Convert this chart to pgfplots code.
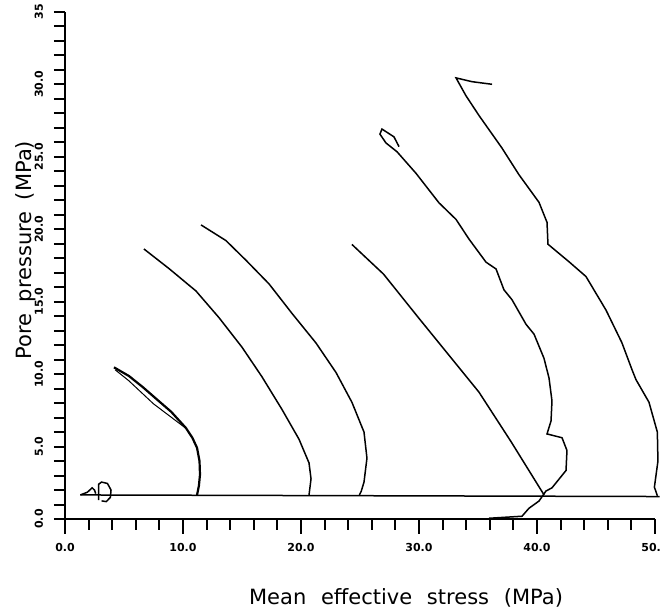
\documentclass[border=0pt]{standalone}
\usepackage{fontspec}
\setmainfont{DejaVu Sans}
\setsansfont{DejaVu Sans}
\usepackage{pgfplots}
\pgfplotsset{compat=1.18}
\pgfplotsset{curve/.style={black, solid, line width=0.75pt, mark=none}}

\begin{document}
\begin{tikzpicture}
\begin{axis}[
  at={(0,0)}, anchor=south west,
  scale only axis,
  width=295pt, height=253.5pt,
  xmin=0, xmax=50, ymin=0, ymax=35,
  clip=false,
  axis x line*=bottom, axis y line*=left,
  axis line style={line width=1.1pt, -},
  xtick={0,10,...,50},
  xticklabels={0.0,10.0,20.0,30.0,40.0,50.0},
  minor xtick={2,4,...,48},
  ytick={0,5,...,35},
  yticklabels={0.0,5.0,10.0,15.0,20.0,25.0,30.0,35},
  minor ytick={0,1,...,35},
  tick align=outside,
  major tick length=7.5pt,
  minor tick length=5.5pt,
  every tick/.style={black, line width=1pt},
  every major y tick/.append style={draw=none},
  xticklabel style={font=\fontsize{5.5}{6}\selectfont\bfseries, yshift=-1pt},
  yticklabel style={font=\fontsize{5.5}{6}\selectfont\bfseries, rotate=90, anchor=south},
  xlabel={Mean\hspace{0.7em}effective\hspace{0.7em}stress\hspace{0.7em}(MPa)},
  ylabel={Pore\hspace{0.55em}pressure\hspace{0.55em}(MPa)},
  label style={font=\fontsize{10.5}{12}\selectfont},
  xlabel style={at={(axis description cs:0.578,-0.156)}, anchor=center},
  ylabel style={at={(axis description cs:-0.066,0.53)}, anchor=center},
]

% baseline at the start of each test
\addplot[curve] coordinates {(1.3,1.66) (50.4,1.55)};

% small loop near the origin
\addplot[curve] coordinates {(1.3,1.66) (1.9,1.85) (2.3,2.15) (2.5,2.0) (2.6,1.75)};
\addplot[curve] coordinates {(2.85,1.3) (2.85,2.4) (3.1,2.55) (3.6,2.45) (3.9,2.0) (3.85,1.5) (3.5,1.2) (3.1,1.25)};

% test 1 (loading and unloading)
\addplot[curve, line width=1.1pt] coordinates {
  (4.15,10.47) (5.42,9.87) (6.6,9.1) (7.71,8.31) (9.0,7.4) (10.25,6.28)
  (10.8,5.6) (11.19,4.91) (11.4,4.0) (11.44,3.06) (11.35,2.3) (11.19,1.66)};
\addplot[curve, line width=0.5pt] coordinates {(4.25,10.3) (5.4,9.55) (7.5,7.95) (10.1,6.35)};

% test 2
\addplot[curve] coordinates {
  (6.69,18.64) (8.81,17.29) (11.10,15.74) (13.05,13.9) (15.0,11.86) (16.69,9.82)
  (18.39,7.56) (19.83,5.51) (20.68,3.87) (20.85,2.77) (20.68,1.66)};

% test 3
\addplot[curve] coordinates {
  (11.53,20.3) (13.64,19.22) (15.34,17.86) (17.29,16.23) (19.24,14.19) (21.27,12.15)
  (22.97,10.11) (24.32,8.05) (25.34,6.0) (25.59,4.2) (25.34,2.55) (25.1,1.9) (24.95,1.66)};

% test 4
\addplot[curve] coordinates {
  (24.32,18.95) (27.0,16.9) (30.0,13.85) (35.08,8.76) (37.8,5.34) (40.6,1.66)};

% test 5
\addplot[curve] coordinates {
  (28.31,25.70) (27.88,26.38) (26.86,26.92) (26.69,26.57) (27.2,25.96) (28.14,25.35)
  (29.75,23.86) (31.69,21.83) (33.14,20.68) (34.24,19.32) (35.68,17.73) (36.53,17.26)
  (37.2,15.82) (37.88,15.14) (39.07,13.44) (39.75,12.76) (40.59,11.1) (41.02,9.73)
  (41.27,8.15) (41.19,6.77) (40.85,5.87) (42.12,5.61) (42.54,4.73) (42.46,3.35)
  (41.27,2.15) (40.76,1.93) (40.17,1.24) (39.32,0.74) (38.73,0.19) (35.93,0.05)};

% test 6
\addplot[curve] coordinates {
  (36.19,30.01) (34.49,30.19) (33.14,30.45) (33.98,29.22) (35.08,27.86) (37.03,25.61)
  (38.47,23.77) (40.17,21.86) (40.85,20.48) (40.93,18.97) (42.71,17.76) (44.15,16.74)
  (45.85,14.42) (47.2,12.16) (48.05,10.31) (48.39,9.62) (49.49,8.06) (50.2,6.0)
  (50.25,4.0) (50.05,2.8) (49.95,2.2) (50.2,1.6)};

\end{axis}
\pgfresetboundingbox
\useasboundingbox (-32.5pt,-47.5pt) rectangle (298pt,259.5pt);
\end{tikzpicture}
\end{document}
